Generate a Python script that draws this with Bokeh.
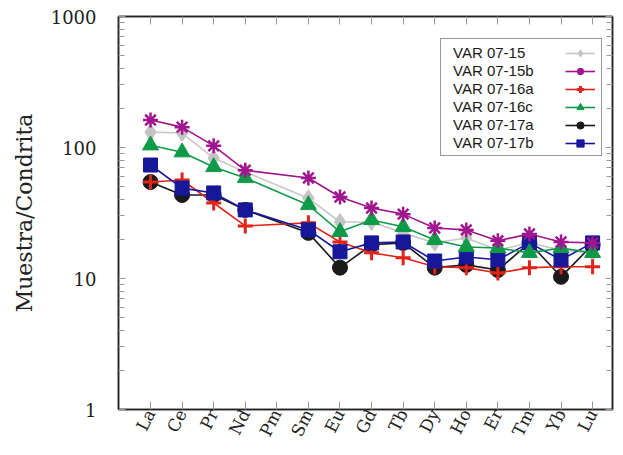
from bokeh.plotting import figure
from bokeh.models import Range1d, FixedTicker, LogAxis, LinearAxis, Legend, LegendItem, ColumnDataSource
from bokeh.embed import file_html
from bokeh.resources import INLINE

elements = ["La", "Ce", "Pr", "Nd", "Pm", "Sm", "Eu", "Gd", "Tb", "Dy", "Ho", "Er", "Tm", "Yb", "Lu"]

var_07_15  = [131, 129, 83, 65, None, 41, 27, 27, 22.3, 18.7, 20.4, 16.5, 18.7, 16.5, 15.7]
var_07_15b = [162, 143, 103, 67, None, 58.5, 41.9, 34.5, 31, 24.3, 23.5, 19.4, 21.9, 19, 18.7]
var_07_16a = [54.5, 56.5, 37.7, 25.2, None, 26.6, 19, 15.7, 14.4, 12.3, 12.1, 11.0, 12.1, 12.3, 12.3]
var_07_16c = [104, 92, 71, 58.5, None, 36.4, 22.7, 28, 24.8, 19.7, 17.4, 17.1, 15.7, 17.1, 15.7]
var_07_17a = [54.5, 43.4, 43.4, 33.4, None, 22.3, 12.1, 18.1, 18.7, 12.1, 12.7, 11.6, 18.7, 10.3, 18.1]
var_07_17b = [73.5, 49, 45, 33.4, None, 23.5, 16, 18.7, 19, 13.6, 14.6, 13.9, 18.7, 13.9, 18.7]

y_ticks = [1, 10, 100, 1000]
y_tick_labels = ["1", "10", "100", "1000"]

series = [
    # name, values, marker, color, size, line color
    ("VAR 07-15", var_07_15, "diamond", "#c4c4c4", 17, "#c8c8c8"),
    ("VAR 07-15b", var_07_15b, "asterisk", "#a0168e", 15, "#a0168e"),
    ("VAR 07-16a", var_07_16a, "cross", "#e2231a", 15, "#e2231a"),
    ("VAR 07-16c", var_07_16c, "triangle", "#0f9a48", 16, "#0f9a48"),
    ("VAR 07-17a", var_07_17a, "circle", "#1a1a1a", 15, "#1a1a1a"),
    ("VAR 07-17b", var_07_17b, "square", "#17179a", 14, "#17179a"),
]
draw_order = ["VAR 07-15", "VAR 07-17a", "VAR 07-16a", "VAR 07-17b", "VAR 07-16c", "VAR 07-15b"]

p = figure(width=615, height=447, x_range=Range1d(-1.014, 14.63), y_range=Range1d(1, 1000),
           y_axis_type="log", output_backend="svg", toolbar_location=None,
           min_border_left=118, min_border_right=3, min_border_top=16, min_border_bottom=36)
p.xgrid.visible = False
p.ygrid.visible = False
p.outline_line_color = "#222222"
p.outline_line_width = 1.5
p.background_fill_color = "white"

# x axis
xax = p.xaxis[0]
xax.ticker = FixedTicker(ticks=list(range(len(elements))))
xax.major_label_overrides = {i: e for i, e in enumerate(elements)}
xax.major_label_orientation = 1.1
xax.major_label_text_font = "DejaVu Serif"
xax.major_label_text_font_size = "17px"
xax.major_label_text_color = "#222222"
xax.major_tick_in = 8
xax.major_tick_out = 0
xax.minor_tick_in = 0
xax.minor_tick_out = 0
xax.major_tick_line_color = "#999999"
xax.axis_line_color = "#222222"
xax.axis_line_width = 1.5
xax.major_label_standoff = 1

# y axis
minor = [m * 10 ** k for k in range(3) for m in range(2, 10)]
yax = p.yaxis[0]
yax.ticker = FixedTicker(ticks=y_ticks, minor_ticks=minor)
yax.major_label_overrides = {t: l for t, l in zip(y_ticks, y_tick_labels)}
yax.major_label_text_font = "DejaVu Serif"
yax.major_label_text_font_size = "18px"
yax.major_label_text_color = "#222222"
yax.major_tick_in = 7
yax.major_tick_out = 0
yax.minor_tick_in = 6
yax.minor_tick_out = 0
yax.major_tick_line_color = "#999999"
yax.minor_tick_line_color = "#999999"
yax.axis_line_color = "#222222"
yax.axis_line_width = 1.5
yax.major_label_standoff = 22
yax.axis_label = "Muestra/Condrita"
yax.axis_label_text_font = "DejaVu Serif"
yax.axis_label_text_font_size = "22px"
yax.axis_label_text_font_style = "normal"
yax.axis_label_text_color = "#222222"
yax.axis_label_standoff = 11

# mirrored axes
rax = LogAxis(ticker=FixedTicker(ticks=y_ticks, minor_ticks=minor),
              major_label_overrides={t: "" for t in y_ticks},
              major_tick_in=7, major_tick_out=0, minor_tick_in=6, minor_tick_out=0,
              major_tick_line_color="#999999", minor_tick_line_color="#999999",
              axis_line_color="#222222", axis_line_width=1.5,
              major_label_text_font_size="0px", major_label_standoff=0)
p.add_layout(rax, "right")
tax = LinearAxis(ticker=FixedTicker(ticks=list(range(len(elements)))),
                 major_label_overrides={i: "" for i in range(len(elements))},
                 major_tick_in=8, major_tick_out=0, minor_tick_in=0, minor_tick_out=0,
                 major_tick_line_color="#999999",
                 axis_line_color="#222222", axis_line_width=1.5,
                 major_label_text_font_size="0px", major_label_standoff=0)
p.add_layout(tax, "above")

renderers = {}
by_name = {s[0]: s for s in series}
for name in draw_order:
    _, vals, marker, color, size, lcolor = by_name[name]
    xs = [i for i, v in enumerate(vals) if v is not None]
    ys = [v for v in vals if v is not None]
    src = ColumnDataSource(dict(x=xs, y=ys))
    lr = p.line("x", "y", source=src, line_color=lcolor, line_width=1.6)
    if marker in ("asterisk", "cross"):
        sr = p.scatter("x", "y", source=src, marker=marker, size=size, line_color=color,
                       line_width=3 if marker == "cross" else 2.5)
    else:
        sr = p.scatter("x", "y", source=src, marker=marker, size=size, fill_color=color,
                       line_color=color, line_width=1)
    renderers[name] = (lr, sr, src)

# invisible renderer for text-only legend
first_src = renderers["VAR 07-15"][2]
ghost = p.line("x", "y", source=first_src, line_alpha=0)

legend_text = Legend(items=[LegendItem(label=s[0], renderers=[ghost]) for s in series],
                     location=(322, 253), padding=4, spacing=0, glyph_width=0, glyph_height=18,
                     label_height=18, label_standoff=8, label_width=144,
                     label_text_font="Liberation Sans", label_text_font_size="15px",
                     label_text_color="#1a1a1a", border_line_color="#333333", border_line_width=1.2,
                     background_fill_color="white", background_fill_alpha=1.0, margin=0)
legend_glyph = Legend(items=[LegendItem(label=" ", renderers=[renderers[s[0]][0], renderers[s[0]][1]])
                             for s in series],
                      location=(443, 253), padding=4, spacing=0, glyph_width=30, glyph_height=18,
                      label_height=18, label_standoff=0, label_width=0,
                      label_text_font_size="15px",
                      border_line_alpha=0, background_fill_alpha=0, margin=0)
p.add_layout(legend_text, "center")
p.add_layout(legend_glyph, "center")

open("out.html", "w").write(file_html(p, INLINE))
